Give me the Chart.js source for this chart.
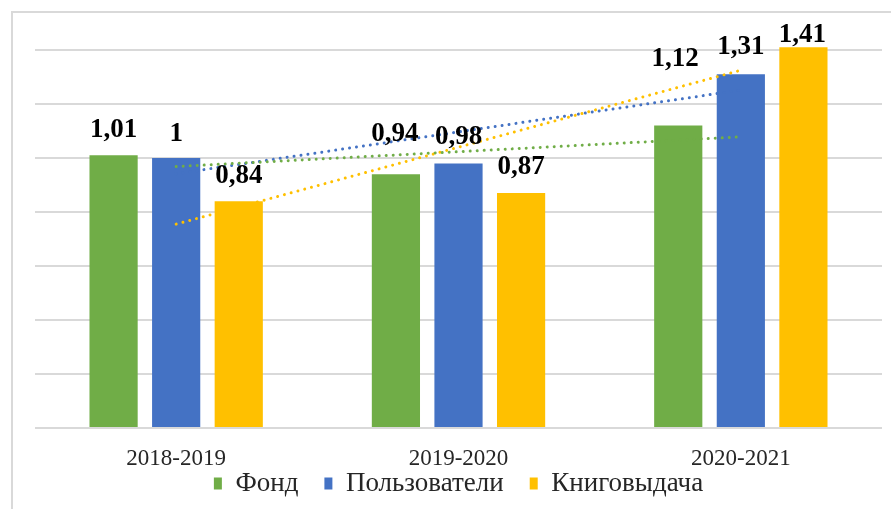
<!DOCTYPE html>
<html>
<head>
<meta charset="utf-8">
<script src="https://cdn.jsdelivr.net/npm/chart.js@4/dist/chart.umd.min.js"></script>
<style>
  html, body { margin: 0; padding: 0; background: #ffffff; }
  canvas { display: block; }
</style>
</head>
<body>
<canvas id="c" width="891" height="509"></canvas>
<script>
// ---- data ----
const categories = ['2018-2019', '2019-2020', '2020-2021'];
const seriesNames = ['Фонд', 'Пользователи', 'Книговыдача'];
const fond = [1.01, 0.94, 1.12];
const users = [1, 0.98, 1.31];
const loans = [0.84, 0.87, 1.41];
const valueLabels = [['1,01', '0,94', '1,12'], ['1', '0,98', '1,31'], ['0,84', '0,87', '1,41']];
const yTicks = [0, 0.2, 0.4, 0.6, 0.8, 1.0, 1.2, 1.4];

const colors = ['#70AD47', '#4472C4', '#FFC000'];
const seriesValues = [fond, users, loans];

// linear (least-squares) trend, as a spreadsheet trendline does
function linearTrend(vals) {
  const n = vals.length;
  let sx = 0, sy = 0, sxy = 0, sxx = 0;
  vals.forEach((v, i) => { const x = i + 1; sx += x; sy += v; sxy += x * v; sxx += x * x; });
  const b = (n * sxy - sx * sy) / (n * sxx - sx * sx);
  const a = (sy - b * sx) / n;
  return vals.map((v, i) => a + b * (i + 1));
}

const datasets = [];
seriesValues.forEach((vals, i) => {
  datasets.push({
    type: 'bar', label: seriesNames[i], data: vals,
    backgroundColor: colors[i], borderWidth: 0, order: 1,
    categoryPercentage: 0.665, barPercentage: 0.77
  });
});
seriesValues.forEach((vals, i) => {
  datasets.push({
    type: 'line', label: 'trend ' + seriesNames[i], data: linearTrend(vals),
    borderColor: colors[i], borderWidth: 3, borderDash: [0.01, 7],
    borderCapStyle: 'round', pointRadius: 0, fill: false, order: 0, tension: 0
  });
});

const frame = {
  id: 'frame',
  afterLayout(chart) {
    // let the category labels use the space shared with the legend
    chart.scales.x.bottom = chart.height;
  },
  beforeDraw(chart) {
    const ctx = chart.ctx;
    ctx.save();
    ctx.fillStyle = '#ffffff';
    ctx.fillRect(0, 0, chart.width, chart.height);
    ctx.strokeStyle = '#d9d9d9';
    ctx.lineWidth = 2;
    ctx.strokeRect(12, 12, 1000, 600);
    ctx.restore();
  }
};

const valueLabelPlugin = {
  id: 'valueLabels',
  afterDatasetsDraw(chart, args, opts) {
    const ctx = chart.ctx;
    ctx.save();
    ctx.font = 'bold 27px "Liberation Serif", "Times New Roman", serif';
    ctx.fillStyle = '#000000';
    ctx.textAlign = 'center';
    ctx.textBaseline = 'alphabetic';
    for (let s = 0; s < 3; s++) {
      const meta = chart.getDatasetMeta(s);
      meta.data.forEach((el, j) => {
        const off = opts.offsets[s][j];
        ctx.fillText(valueLabels[s][j], el.x + opts.dx[s][j], el.y - off);
      });
    }
    ctx.restore();
  }
};

new Chart(document.getElementById('c'), {
  data: { labels: categories, datasets: datasets },
  options: {
    responsive: false,
    animation: false,
    devicePixelRatio: 1,
    layout: { padding: { left: 35, right: 9, top: 23, bottom: 2 } },
    scales: {
      x: {
        grid: { display: false, drawTicks: false },
        border: { display: false },
        afterFit(scale) { scale.height = 16; },
        ticks: {
          color: '#262626', padding: 17,
          font: { family: '"Liberation Serif", "Times New Roman", serif', size: 23 }
        }
      },
      y: {
        min: 0, max: 1.5,
        afterBuildTicks(scale) { scale.ticks = yTicks.map(v => ({ value: v })); },
        grid: { color: '#d9d9d9', lineWidth: 2, drawTicks: false },
        border: { display: false },
        ticks: { display: false }
      }
    },
    plugins: {
      legend: {
        position: 'bottom',
        labels: {
          boxWidth: 8, boxHeight: 12, padding: 26, color: '#262626',
          font: { family: '"Liberation Serif", "Times New Roman", serif', size: 27 },
          filter: (item) => item.datasetIndex < 3
        }
      },
      tooltip: { enabled: false },
      valueLabels: {
        offsets: [[18, 33, 60], [17, 19, 20], [18, 19, 5]],
        dx: [[0, -1, -3], [0, 0, 0], [0, 0, -1]]
      }
    }
  },
  plugins: [frame, valueLabelPlugin]
});
</script>
</body>
</html>
